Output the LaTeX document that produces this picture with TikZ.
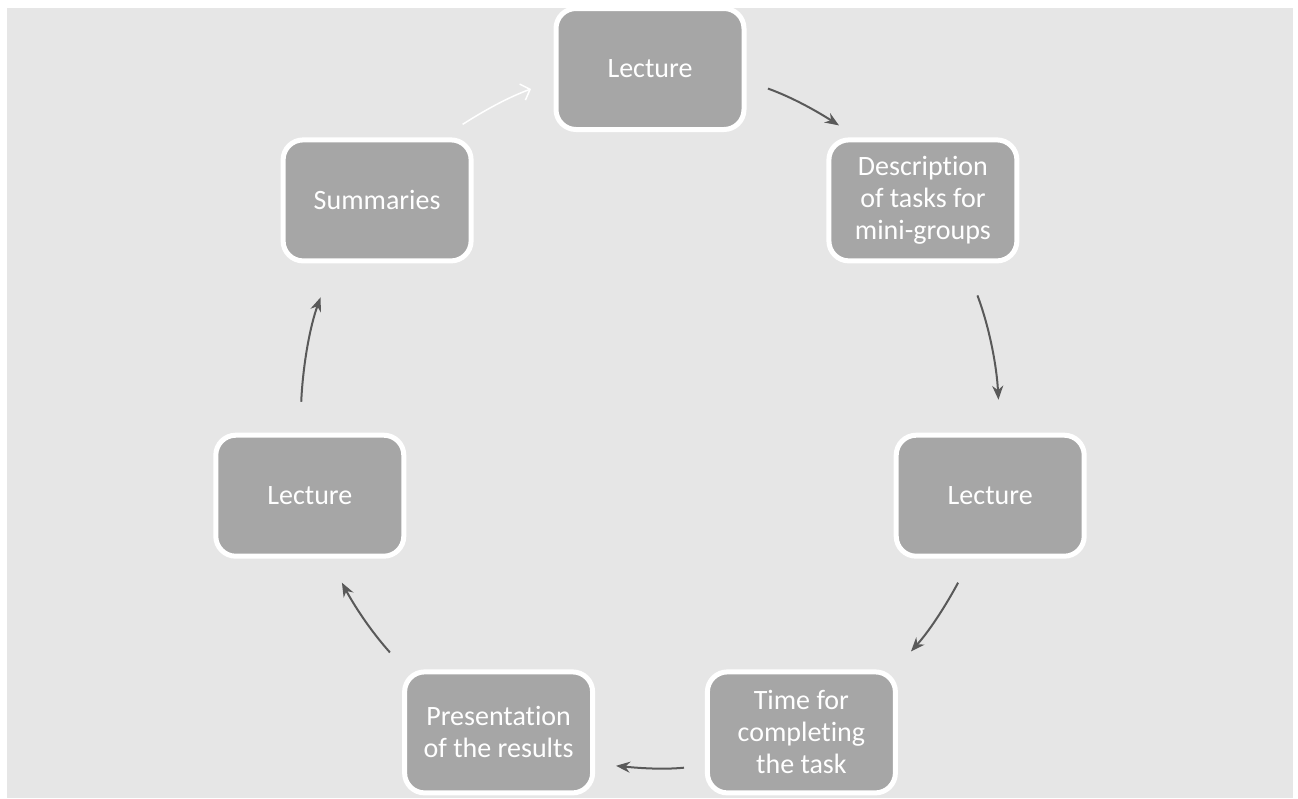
\documentclass[tikz,border=0pt]{standalone}
\usepackage{fontspec}
\setmainfont{Carlito}[Ligatures=NoCommon]
\usetikzlibrary{arrows.meta}
\definecolor{panel}{HTML}{E6E6E6}
\definecolor{stagefill}{HTML}{A6A6A6}
\definecolor{flowgray}{HTML}{595959}

\begin{document}
\begin{tikzpicture}[x=1pt,y=1pt,
    stage/.style={draw=white, line width=5pt, fill=stagefill, rounded corners=20pt,
      minimum width=188pt, minimum height=121pt, inner sep=0pt, align=center,
      text=white, font=\fontsize{28}{32}\selectfont},
    flow/.style={draw=flowgray, line width=2pt, -{Stealth[length=14pt,width=11pt,inset=4.5pt]}},
    backflow/.style={draw=white, line width=1.5pt, -{Straight Barb[length=8pt,width=17pt]}}]
    \useasboundingbox (0,0) rectangle (1298,-798);
    \fill[panel] (7,-8) rectangle (1293,-798);

    \node[stage] (lectureTop) at (650,-69) {Lecture};
    \node[stage] (tasks) at (922.9,-200.4) {Description\\of tasks for\\mini-groups};
    \node[stage] (lectureRight) at (990.2,-495.7) {Lecture};
    \node[stage] (work) at (801.4,-732.4) {Time for\\completing\\the task};
    \node[stage] (results) at (498.6,-732.4) {Presentation\\of the results};
    \node[stage] (lectureLeft) at (309.8,-495.7) {Lecture};
    \node[stage] (summary) at (377.1,-200.4) {Summaries};

    \draw[flow, shorten <=22.8pt, shorten >=22.2pt]
    (lectureTop.-7.8) to[out=-19.8, in=147.3] (tasks.136.5);
    \draw[flow, shorten <=34.2pt, shorten >=33pt]
    (tasks.-56.3) to[out=-69.4, in=93] (lectureRight.81.2);
    \draw[flow, shorten <=27.2pt, shorten >=24.2pt]
    (lectureRight.-107.1) to[out=-118.2, in=48.1] (work.34.3);
    \draw[flow, shorten <=21pt, shorten >=21pt]
    (work.-161.7) to[out=-174.4, in=-5.6] (results.-18.9);
    \draw[flow, shorten <=22.8pt, shorten >=27.2pt]
    (results.146.3) to[out=131.9, in=-61.8] (lectureLeft.-73);
    \draw[flow, shorten <=31pt, shorten >=36.2pt]
    (lectureLeft.99.2) to[out=87.4, in=249.9] (summary.-125.4);
    \draw[backflow, shorten <=24.1pt, shorten >=23.9pt]
    (summary.44.8) to[out=32.7, in=199.9] (lectureTop.-173);
\end{tikzpicture}
\end{document}
